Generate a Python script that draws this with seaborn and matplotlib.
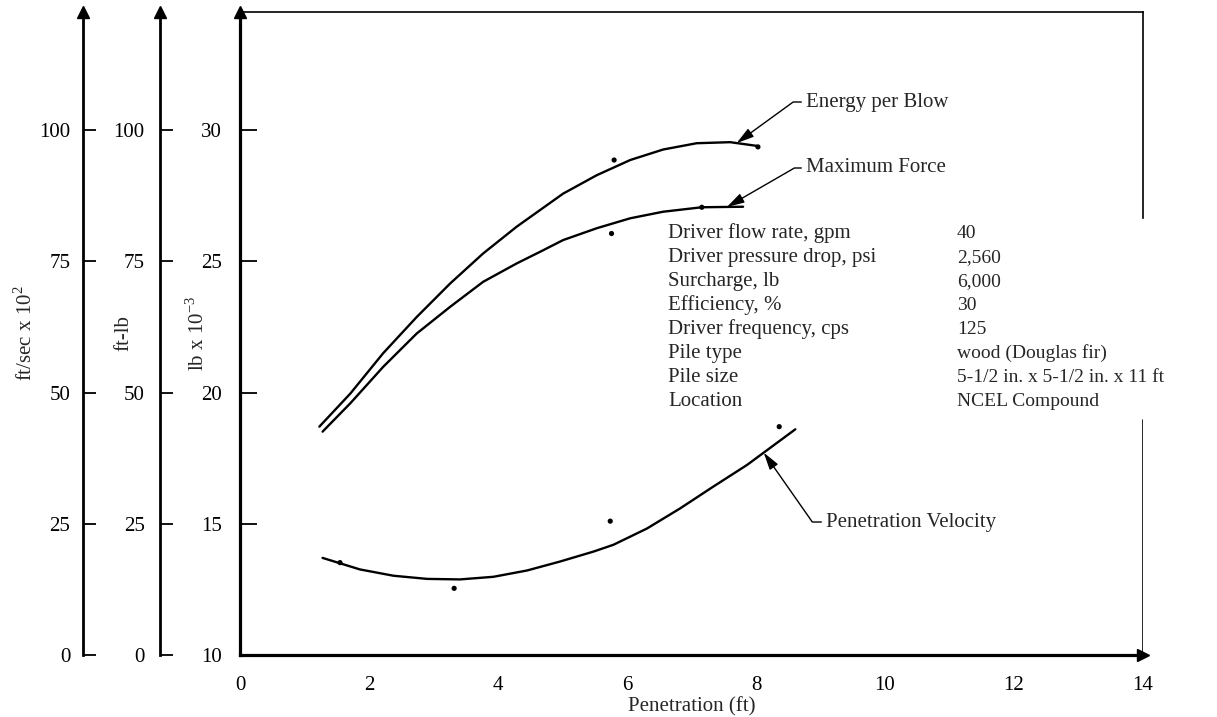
import numpy as np
import pandas as pd
import matplotlib
matplotlib.use("Agg")
import matplotlib.pyplot as plt
import seaborn as sns

# ---------------- data ----------------
# Energy per Blow (ft-lb) vs penetration (ft)
energy_x = [1.23, 1.71, 2.22, 2.74, 3.26, 3.77, 4.29, 5.01, 5.53, 6.05, 6.56, 7.08, 7.60, 8.01]
energy_y = [43.5, 49.8, 57.5, 64.4, 70.8, 76.5, 81.6, 87.9, 91.4, 94.3, 96.3, 97.5, 97.7, 97.0]
energy_pts_x = [5.80, 8.03]
energy_pts_y = [94.3, 96.8]

# Maximum Force (lb x 10^-3)
force_x = [1.28, 1.71, 2.22, 2.74, 3.26, 3.77, 4.29, 4.65, 5.01, 5.53, 6.05, 6.56, 7.16, 7.80]
force_y = [18.51, 19.59, 20.98, 22.25, 23.27, 24.22, 24.92, 25.36, 25.81, 26.26, 26.64, 26.89, 27.06, 27.08]
force_pts_x = [5.76, 7.16]
force_pts_y = [26.06, 27.06]

# Penetration Velocity (ft/sec x 10^2)
vel_x = [1.28, 1.86, 2.38, 2.90, 3.41, 3.93, 4.45, 4.96, 5.48, 5.79, 6.31, 6.82, 7.34, 7.86, 8.61]
vel_y = [18.5, 16.3, 15.1, 14.5, 14.4, 14.9, 16.1, 17.8, 19.7, 21.0, 24.1, 27.9, 32.1, 36.2, 43.0]
vel_pts_x = [1.55, 3.32, 5.74, 8.36]
vel_pts_y = [17.6, 12.7, 25.5, 43.5]

x_ticks = [0, 2, 4, 6, 8, 10, 12, 14]
force_ticks = [10, 15, 20, 25, 30]
aux_ticks = [0, 25, 50, 75, 100]

table_labels = ["Driver flow rate, gpm", "Driver pressure drop, psi", "Surcharge, lb",
                "Efficiency, %", "Driver frequency, cps", "Pile type", "Pile size", "Location"]
table_values = ["40", "2,560", "6,000", "30", "125", "wood (Douglas fir)",
                "5-1/2 in. x 5-1/2 in. x 11 ft", "NCEL Compound"]

# ---------------- style ----------------
sns.set_theme(style="white")
plt.rcParams["font.family"] = ["Liberation Serif", "DejaVu Serif"]
plt.rcParams["mathtext.fontset"] = "custom"
plt.rcParams["mathtext.rm"] = "Liberation Serif"
FS = 15

W, H = 1217, 717
fig = plt.figure(figsize=(W / 100, H / 100), dpi=100)
L, R, T, B = 240, 1143, 12, 655
ax = fig.add_axes([L / W, 1 - B / H, (R - L) / W, (B - T) / H])
PX_PER_Y = (B - T) / 24.5

def py_to_y(py):
    return 10 + (B - py) / PX_PER_Y

def px_to_x(px):
    return (px - L) / ((R - L) / 14)

YMIN, YMAX = 10, 34.5
def to_aux(v):
    return (v - 10) * 5.0

ax_e = ax.twinx()
ax_v = ax.twinx()

# curves
sns.lineplot(x=force_x, y=force_y, ax=ax, color="black", linewidth=1.7,
             estimator=None, sort=False)
sns.scatterplot(x=force_pts_x, y=force_pts_y, ax=ax, color="black", s=14,
                edgecolor="none")
sns.lineplot(x=energy_x, y=energy_y, ax=ax_e, color="black", linewidth=1.7,
             estimator=None, sort=False)
sns.scatterplot(x=energy_pts_x, y=energy_pts_y, ax=ax_e, color="black", s=14,
                edgecolor="none")
sns.lineplot(x=vel_x, y=vel_y, ax=ax_v, color="black", linewidth=1.7,
             estimator=None, sort=False)
sns.scatterplot(x=vel_pts_x, y=vel_pts_y, ax=ax_v, color="black", s=14,
                edgecolor="none")

# main axis
ax.set_xlim(0, 14)
ax.set_ylim(YMIN, YMAX)
ax.set_xticks(x_ticks)
ax.set_xticklabels([str(v) for v in x_ticks], fontsize=FS)
ax.set_yticks(force_ticks)
ax.set_yticklabels([str(v) for v in force_ticks], fontsize=FS)
ax.tick_params(axis="x", direction="in", length=11, width=1.1, pad=15, colors="black")
ax.tick_params(axis="y", direction="in", length=12, width=1.3, pad=13, colors="black")
for s in ["left", "bottom"]:
    ax.spines[s].set_linewidth(2.3)
    ax.spines[s].set_color("black")
for s in ["top", "right"]:
    ax.spines[s].set_linewidth(1.2)
    ax.spines[s].set_color("black")
# right border is interrupted behind the parameter table
ax.spines["right"].set_bounds(py_to_y(218), YMAX)
ax.axvline(14, ymin=0, ymax=(B - 420) / (B - T), color="black", lw=1.2)
ax.set_xlabel("Penetration (ft)", fontsize=FS)
ax.xaxis.set_label_coords(0.5, -0.066)
ax.set_ylabel("lb x 10$^{-3}$", fontsize=FS)
ax.yaxis.set_label_coords(-0.034, 0.5)
ax.plot([1], [0], marker=">", color="black", markersize=9, transform=ax.transAxes, clip_on=False)
ax.plot([0], [1], marker="^", color="black", markersize=9, transform=ax.transAxes, clip_on=False)

# auxiliary axes
for a, off, lab, lx, pad in [(ax_e, -80 / 903, "ft-lb", -0.1185, 11),
                             (ax_v, -157 / 903, "ft/sec x 10$^2$", -0.2248, 9)]:
    a.set_ylim(to_aux(YMIN), to_aux(YMAX))
    a.set_xlim(0, 14)
    for s in ["right", "top", "bottom"]:
        a.spines[s].set_visible(False)
    a.spines["left"].set_visible(True)
    a.spines["left"].set_position(("axes", off))
    a.spines["left"].set_linewidth(2.0)
    a.spines["left"].set_color("black")
    a.yaxis.set_ticks_position("left")
    a.yaxis.set_label_position("left")
    a.set_yticks(aux_ticks)
    a.set_yticklabels([str(v) for v in aux_ticks], fontsize=FS)
    a.tick_params(axis="y", direction="in", length=9, width=1.3, pad=pad, colors="black")
    a.set_ylabel(lab, fontsize=FS)
    a.yaxis.set_label_coords(lx, 0.5, transform=ax.transAxes)
    a.plot([off], [1], marker="^", color="black", markersize=9,
           transform=a.transAxes, clip_on=False)
    a.set_xlabel("")

# annotations with leader lines
def annotate(label, tip_x, xs, ys, conv, text_xy, angleB):
    tip_y = conv(np.interp(tip_x, xs, ys))
    ax.annotate(label, xy=(tip_x, tip_y), xytext=text_xy, textcoords="data",
                fontsize=FS, ha="left", va="center",
                arrowprops=dict(arrowstyle="-|>,head_length=0.7,head_width=0.2",
                                color="black", lw=1.0, shrinkA=1, shrinkB=0,
                                relpos=(0, 0.5),
                                connectionstyle=f"angle,angleA=0,angleB={angleB},rad=0"))

aux_to_main = lambda v: v / 5.0 + 10
annotate("Energy per Blow", 7.70, energy_x, energy_y, aux_to_main,
         (px_to_x(806), py_to_y(102)), 36)
annotate("Maximum Force", 7.55, force_x, force_y, lambda v: v,
         (px_to_x(806), py_to_y(168)), 30)
annotate("Penetration Velocity", 8.12, vel_x, vel_y, aux_to_main,
         (px_to_x(826), py_to_y(522)), -55)

# parameter table (rows 24 px apart)
for i, (lab, val) in enumerate(zip(table_labels, table_values)):
    yy = py_to_y(233 + 24.1 * i)
    ax.text(px_to_x(668), yy, lab, fontsize=FS, ha="left", va="center")
    ax.text(px_to_x(957), yy, val, fontsize=14, ha="left", va="center")

fig.savefig("out.png", dpi=100)
